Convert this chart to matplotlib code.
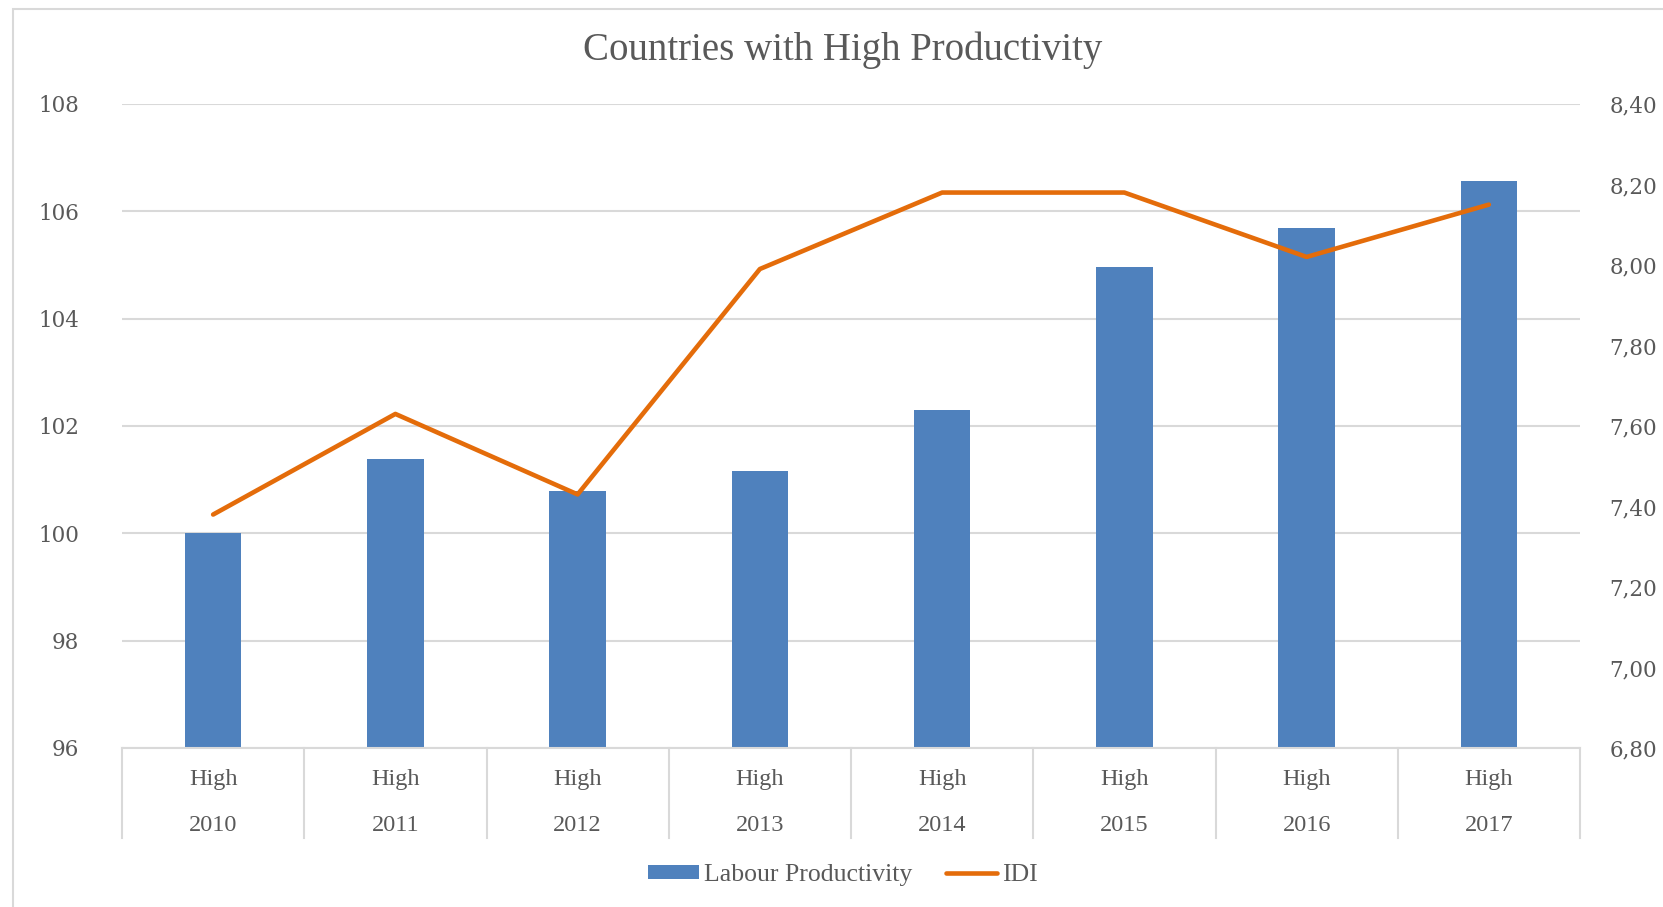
import numpy as np
import matplotlib.pyplot as plt
from matplotlib.patches import Patch, Rectangle
from matplotlib.lines import Line2D
from matplotlib.ticker import FuncFormatter

years = ["2010", "2011", "2012", "2013", "2014", "2015", "2016", "2017"]
group = "High"
labour_productivity = [100.0, 101.38, 100.78, 101.16, 102.29, 104.96, 105.69, 106.56]
idi = [7.38, 7.63, 7.43, 7.99, 8.18, 8.18, 8.02, 8.15]

blue = "#4F81BD"
orange = "#E46C0A"
grid_col = "#D9D9D9"
text_col = "#595959"

W, H = 1663, 907
fig = plt.figure(figsize=(W / 100, H / 100), dpi=100)
fig.patch.set_facecolor("white")

# light frame around the chart area
fig.patches.append(Rectangle((13 / W, -0.1), 1.2, 1.1 - 9 / H, transform=fig.transFigure,
                             fill=False, edgecolor=grid_col, linewidth=1.5))

left, right, top, bottom = 122, 1580, 104, 748
ax = fig.add_axes([left / W, 1 - bottom / H, (right - left) / W, (bottom - top) / H])

x = np.arange(len(years))
ax.bar(x, labour_productivity, width=0.31, color=blue, zorder=2)
ax.set_xlim(-0.5, len(years) - 0.5)
ax.set_ylim(96, 108)
ax.set_yticks(np.arange(96, 109, 2))
ax.yaxis.grid(True, color=grid_col, linewidth=1.5, zorder=0)
ax.set_axisbelow(True)
ax.set_xticks([])
for s in ["top", "left", "right"]:
    ax.spines[s].set_visible(False)
ax.spines["bottom"].set_color(grid_col)
ax.spines["bottom"].set_linewidth(1.5)
ax.tick_params(axis="y", length=0, pad=31, labelsize=15.5, labelcolor=text_col)
for lab in ax.get_yticklabels():
    lab.set_family("DejaVu Serif")

ax2 = ax.twinx()
ax2.plot(x, idi, color=orange, linewidth=3.3, solid_capstyle="round", zorder=3)
ax2.set_ylim(6.8, 8.4)
ax2.set_yticks(np.arange(6.8, 8.41, 0.2))
ax2.yaxis.set_major_formatter(FuncFormatter(lambda v, p: f"{v:.2f}".replace(".", ",")))
ax2.tick_params(axis="y", length=0, pad=21, labelsize=15.5, labelcolor=text_col)
for lab in ax2.get_yticklabels():
    lab.set_family("DejaVu Serif")
for s in ax2.spines.values():
    s.set_visible(False)

# two-level category labels with separators
trans = ax.get_xaxis_transform()
for i, yr in enumerate(years):
    ax.text(i, -0.049, group, transform=trans, ha="center", va="center",
            fontsize=17.5, color=text_col, family="Liberation Serif")
    ax.text(i, -0.12, yr, transform=trans, ha="center", va="center",
            fontsize=17.5, color=text_col, family="Liberation Serif")
for b in np.arange(-0.5, len(years), 1.0):
    ax.plot([b, b], [0, -0.14], transform=trans, color=grid_col, linewidth=1.5,
            clip_on=False)

fig.text(843 / W, 1 - 50 / H, "Countries with High Productivity", ha="center", va="center",
         fontsize=28, color=text_col, family="Liberation Serif")

handles = [Patch(facecolor=blue, edgecolor="none"),
           Line2D([0], [0], color=orange, linewidth=3.3, solid_capstyle="round")]
fig.legend(handles, ["Labour Productivity", "IDI"], loc="center", ncol=2,
           bbox_to_anchor=(843 / W, 1 - 875 / H), frameon=False,
           prop={"family": "Liberation Serif", "size": 18.5}, labelcolor=text_col,
           handlelength=2.0, handleheight=0.5, handletextpad=0.2, columnspacing=1.3)

fig.savefig("out.png", dpi=100)
